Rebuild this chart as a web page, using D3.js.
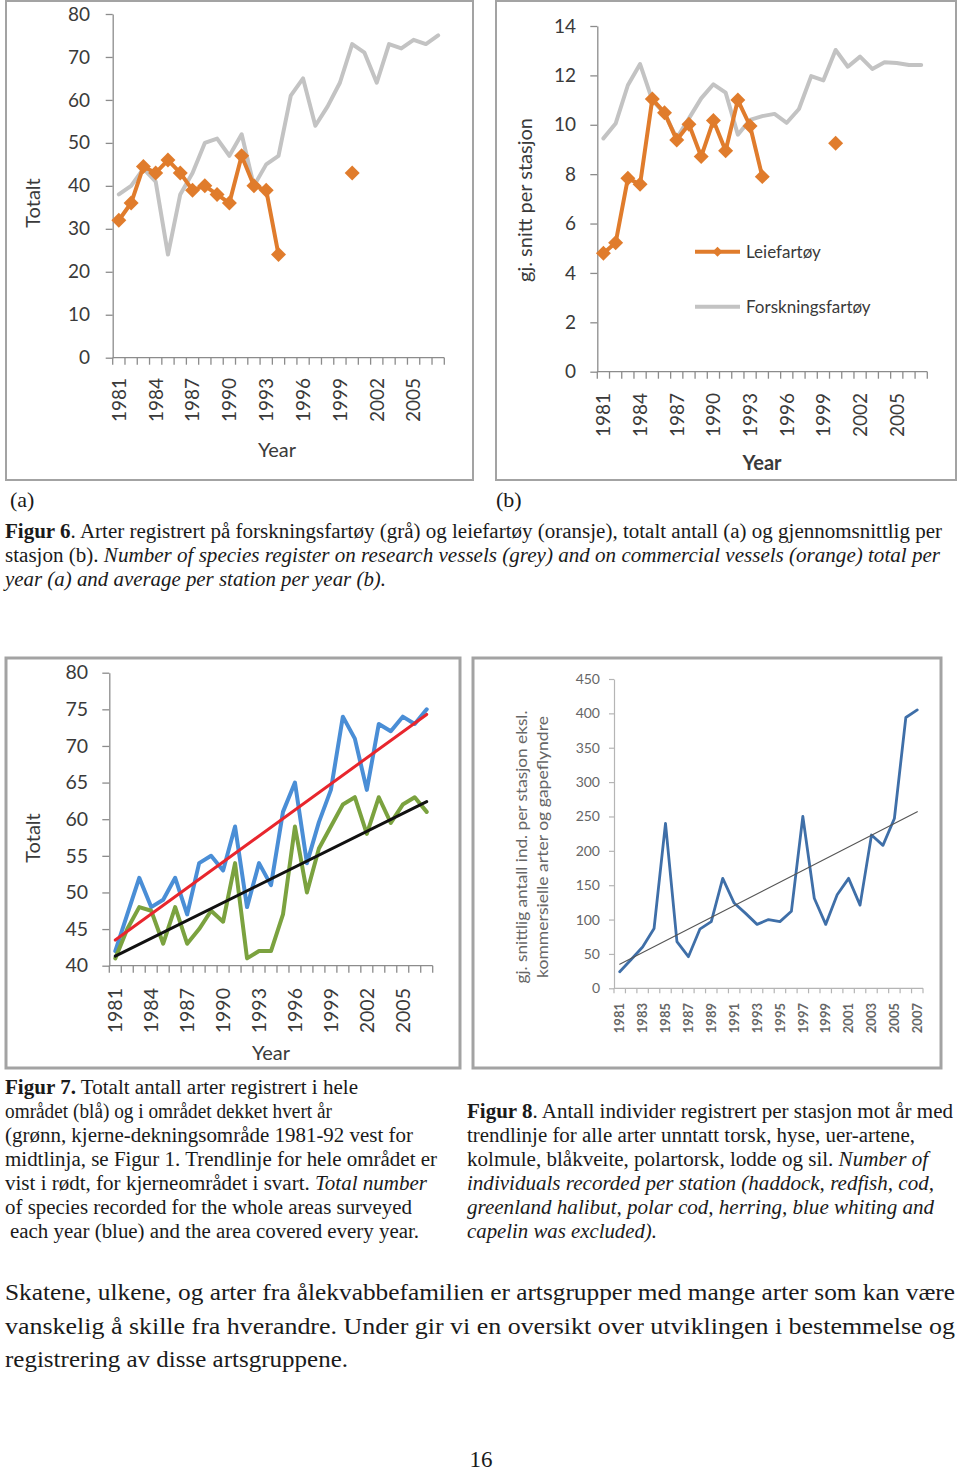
<!DOCTYPE html>
<html><head><meta charset="utf-8">
<script src="https://cdn.jsdelivr.net/npm/d3@7"></script>
<style>body{margin:0;background:#fff} svg{display:block}</style>
</head><body><svg id="page" width="960" height="1471"></svg>
<script>
// ---------- DATA ----------
const years = [1981,1982,1983,1984,1985,1986,1987,1988,1989,1990,1991,1992,1993,1994,1995,1996,1997,1998,1999,2000,2001,2002,2003,2004,2005,2006,2007];
const labelYears3 = [1981,1984,1987,1990,1993,1996,1999,2002,2005];
const labelYears2 = [1981,1983,1985,1987,1989,1991,1993,1995,1997,1999,2001,2003,2005,2007];

// Figur 6 (a): total number of species
const totalResearch = [38,40,44,41,24,38,43,50,51,47,52,40,45,47,61,65,54,58.5,64,73,71,64,73,72,74,73,75];
const totalCommercial = [32,36,44.5,43,46,43,39,40,38,36,47,40,39,24,null,null,null,null,null,43,null,null,null,null,null,null,null];
const ticksA = [0,10,20,30,40,50,60,70,80];

// Figur 6 (b): average per station
const avgResearch = [9.45,10.05,11.6,12.46,11.0,10.46,9.45,10.26,11.07,11.64,11.3,9.6,10.2,10.35,10.44,10.08,10.64,11.97,11.8,13.03,12.35,12.76,12.26,12.53,12.5,12.42,12.42];
const avgCommercial = [4.8,5.22,7.83,7.59,11.04,10.49,9.38,10.02,8.71,10.17,8.95,11.0,9.95,7.9,null,null,null,null,null,9.25,null,null,null,null,null,null,null];
const ticksB = [0,2,4,6,8,10,12,14];
const legendB = ["Leiefartøy","Forskningsfartøy"];

// Figur 7: whole area (blue) and core area (green) with trend lines
const wholeArea = [42,47,52,48,49,52,47,54,55,53,59,48,54,51,61,65,54,59.6,64,74,71,64,73,72,74,73,75];
const coreArea = [41,45,48,47.5,43,48,43,45,47.5,46,54,41,42,42,47,59,50,56,59,62,63,58,63,59.5,62,63,61];
const trendWhole = [43.5,74.3];   // 1981, 2007
const trendCore = [41.3,62.4];    // 1981, 2007
const ticks7 = [40,45,50,55,60,65,70,75,80];

// Figur 8: individuals per station
const individuals = [24,42,60,87,240,68,46,86,97,160,124,109,93,100,97,112,250,131,93,136,160,121,223,208,247,394,405];
const trend8 = [35,257];          // 1981, 2007
const ticks8 = [0,50,100,150,200,250,300,350,400,450];

// ---------- DRAW ----------
const svg = d3.select('#page');
svg.append('rect').attr('width',960).attr('height',1471).attr('fill','#fff');
const CHART_FONT = "Lato, 'Open Sans', sans-serif";
const SERIF = "'Liberation Serif', 'Times New Roman', serif";

function frame(x0,y0,x1,y1,w){
  svg.append('rect').attr('x',x0).attr('y',y0).attr('width',x1-x0).attr('height',y1-y0)
    .attr('fill','none').attr('stroke','#a3a3a3').attr('stroke-width',w||2);
}

function chart(c){
  const g = svg.append('g');
  const x = d3.scaleBand().domain(years).range([c.x0,c.x1]);
  const y = d3.scaleLinear().domain([c.yTicks[0], c.yTicks[c.yTicks.length-1]]).range([c.yBot,c.yTop]);
  const cx = yr => x(yr) + x.bandwidth()/2;
  // y axis
  const ya = d3.axisLeft(y).tickValues(c.yTicks).tickSize(c.tick).tickSizeOuter(0)
    .tickPadding(c.x0 - c.tick - c.yLabelRight);
  const yg = g.append('g').attr('transform',`translate(${c.x0},0)`).call(ya);
  yg.select('.domain').attr('stroke',c.axisColor).attr('stroke-width',c.axisW);
  yg.selectAll('.tick line').attr('stroke',c.axisColor).attr('stroke-width',c.axisW);
  yg.selectAll('.tick text').attr('font-family',CHART_FONT).attr('font-size',c.fs).attr('fill',c.textColor);
  // x axis
  g.append('line').attr('x1',c.x0).attr('x2',c.x1).attr('y1',c.yBot).attr('y2',c.yBot)
    .attr('stroke',c.axisColor).attr('stroke-width',c.axisW);
  const bounds = years.map(yr => x(yr)).concat([c.x1]);
  g.selectAll(null).data(bounds).enter().append('line')
    .attr('x1',d=>d).attr('x2',d=>d).attr('y1',c.yBot).attr('y2',c.yBot+c.tick)
    .attr('stroke',c.axisColor).attr('stroke-width',c.axisW);
  g.selectAll(null).data(c.xLabels).enter().append('text')
    .attr('transform',d=>`translate(${cx(d)},${c.xLabelTop}) rotate(-90)`)
    .attr('text-anchor','end').attr('dy','0.36em')
    .attr('font-family',CHART_FONT).attr('font-size',c.xfs||c.fs).attr('font-weight',c.xfw||'normal')
    .attr('fill',c.textColor).text(d=>d);
  // titles
  c.yTitle.forEach(t=>{
    g.append('text').attr('transform',`translate(${t.x},${c.yTitleY}) rotate(-90)`)
      .attr('text-anchor','middle').attr('dy','0.35em')
      .attr('font-family',CHART_FONT).attr('font-size',c.tfs).attr('fill',c.textColor)
      .attr('textLength',t.len||null).attr('lengthAdjust','spacingAndGlyphs')
      .text(t.text);
  });
  if(c.xTitle){
    g.append('text').attr('x',c.xTitle[0]).attr('y',c.xTitle[1]).attr('text-anchor','middle').attr('dy','0.35em')
      .attr('font-family',CHART_FONT).attr('font-size',c.tfs).attr('font-weight',c.xTitleWeight||'normal')
      .attr('fill',c.textColor).text('Year');
  }
  // series
  c.series.forEach(s=>{
    const line = d3.line().defined(v=>v!=null).x((v,i)=>cx(years[i])).y(v=>y(v));
    g.append('path').attr('d',line(s.values)).attr('fill','none').attr('stroke',s.color)
      .attr('stroke-width',s.width).attr('stroke-linejoin','round').attr('stroke-linecap','round');
    if(s.marker){
      const sym = d3.symbol(d3.symbolSquare, s.marker);
      g.selectAll(null).data(s.values.map((v,i)=>({v,yr:years[i]})).filter(d=>d.v!=null)).enter()
        .append('path').attr('d',sym)
        .attr('transform',d=>`translate(${cx(d.yr)},${y(d.v)}) rotate(45)`)
        .attr('fill',s.color);
    }
  });
  (c.trends||[]).forEach(t=>{
    g.append('line').attr('x1',cx(years[0])).attr('y1',y(t.values[0]))
      .attr('x2',cx(years[years.length-1])).attr('y2',y(t.values[1]))
      .attr('stroke',t.color).attr('stroke-width',t.width).attr('stroke-linecap','round');
  });
  return {x,y,cx,g};
}

const ORANGE = '#e07c2c', GREY = '#c3c3c3';

// frames
frame(6,1,473,480,2);
frame(496,1,956,480,2);
frame(6,658,460,1068,3);
frame(473,658,941,1068,3);

// Figur 6 (a)
chart({x0:112.7,x1:444.3,yTop:14,yBot:357.7,yTicks:ticksA,tick:7,yLabelRight:90,
  axisColor:'#8c8c8c',axisW:1.3,fs:19,tfs:20,textColor:'#3a3a3a',
  xLabels:labelYears3,xLabelTop:378,
  yTitle:[{x:33,text:'Totalt'}],yTitleY:203,xTitle:[277,450],
  series:[{values:totalResearch,color:GREY,width:4},
          {values:totalCommercial,color:ORANGE,width:4,marker:112}]});

// Figur 6 (b)
chart({x0:597.3,x1:927.3,yTop:26,yBot:371.7,yTicks:ticksB,tick:7,yLabelRight:576,
  axisColor:'#8c8c8c',axisW:1.3,fs:19,tfs:20,textColor:'#3a3a3a',
  xLabels:labelYears3,xLabelTop:393,
  yTitle:[{x:525,text:'gj. snitt per stasjon'}],yTitleY:200,xTitle:[762,463],xTitleWeight:'bold',
  series:[{values:avgResearch,color:GREY,width:4},
          {values:avgCommercial,color:ORANGE,width:4,marker:112}]});
// legend (b)
const lg = svg.append('g');
[{c:ORANGE,y:251.7,m:true},{c:GREY,y:306.7,m:false}].forEach((L,i)=>{
  lg.append('line').attr('x1',695).attr('x2',740).attr('y1',L.y).attr('y2',L.y)
    .attr('stroke',L.c).attr('stroke-width',4);
  if(L.m) lg.append('path').attr('d',d3.symbol(d3.symbolSquare,50)).attr('transform',`translate(717.5,${L.y}) rotate(45)`).attr('fill',L.c);
  lg.append('text').attr('x',746).attr('y',L.y).attr('dy','0.35em').attr('font-family',CHART_FONT)
    .attr('font-size',17).attr('fill','#3a3a3a').text(legendB[i]);
});

// Figur 7
chart({x0:109.3,x1:432.7,yTop:672.7,yBot:965.7,yTicks:ticks7,tick:7,yLabelRight:88,
  axisColor:'#8c8c8c',axisW:1.3,fs:19.5,tfs:20,textColor:'#3a3a3a',
  xLabels:labelYears3,xLabelTop:988,
  yTitle:[{x:33,text:'Totalt'}],yTitleY:838,xTitle:[271,1053],
  series:[{values:wholeArea,color:'#4a8ed6',width:4},
          {values:coreArea,color:'#7ba23f',width:4}],
  trends:[{values:trendWhole,color:'#e8262d',width:3},{values:trendCore,color:'#111',width:3}]});

// Figur 8
chart({x0:614,x1:923,yTop:679,yBot:988.3,yTicks:ticks8,tick:5,yLabelRight:600,
  axisColor:'#b5b5b5',axisW:1.2,fs:14,xfs:13,xfw:'bold',tfs:15.5,textColor:'#666',
  xLabels:labelYears2,xLabelTop:1003,
  yTitle:[{x:522,text:'gj. snittlig antall ind. per stasjon eksl.',len:273},
          {x:543,text:'kommersielle arter og gapeflyndre',len:262}],yTitleY:847,xTitle:null,
  series:[{values:individuals,color:'#3f6fa8',width:2.8}],
  trends:[{values:trend8,color:'#555',width:1.1}]});

// ---------- TEXT ----------
function textLine(x,y,len,segs,fs){
  const t = svg.append('text').attr('x',x).attr('y',y).attr('font-family',SERIF).attr('font-size',fs||20)
    .attr('fill','#1a1a1a').attr('textLength',len).attr('lengthAdjust','spacingAndGlyphs')
    .attr('xml:space','preserve');
  segs.forEach(s=>{
    t.append('tspan').attr('font-weight',s.b?'bold':null).attr('font-style',s.i?'italic':null).text(s.t);
  });
}
svg.append('text').attr('x',10).attr('y',507).attr('font-family',SERIF).attr('font-size',22).attr('fill','#1a1a1a').text('(a)');
svg.append('text').attr('x',496).attr('y',507).attr('font-family',SERIF).attr('font-size',22).attr('fill','#1a1a1a').text('(b)');

textLine(5,538,937,[{t:'Figur 6',b:1},{t:'. Arter registrert på forskningsfartøy (grå) og leiefartøy (oransje), totalt antall (a) og gjennomsnittlig per'}]);
textLine(5,562,935,[{t:'stasjon (b). '},{t:'Number of species register on research vessels (grey) and on commercial vessels (orange) total per',i:1}]);
textLine(5,586,381,[{t:'year (a) and average per station per year (b).',i:1}]);

const f7 = [
  [{t:'Figur 7.',b:1},{t:' Totalt antall arter registrert i hele'}],
  [{t:'området (blå) og i området dekket hvert år'}],
  [{t:'(grønn, kjerne-dekningsområde 1981-92 vest for'}],
  [{t:'midtlinja, se Figur 1. Trendlinje for hele området er'}],
  [{t:'vist i rødt, for kjerneområdet i svart. '},{t:'Total number',i:1}],
  [{t:'of species recorded for the whole areas surveyed'}],
  [{t:'each year (blue) and the area covered every year.'}]];
const f7len = [353,327,408,432,422,407,409];
const f7x = [5,5,5,5,5,5,10];
f7.forEach((segs,i)=>textLine(f7x[i],1094+24*i,f7len[i],segs));

const f8 = [
  [{t:'Figur 8',b:1},{t:'. Antall individer registrert per stasjon mot år med'}],
  [{t:'trendlinje for alle arter unntatt torsk, hyse, uer-artene,'}],
  [{t:'kolmule, blåkveite, polartorsk, lodde og sil. '},{t:'Number of',i:1}],
  [{t:'individuals recorded per station (haddock, redfish, cod,',i:1}],
  [{t:'greenland halibut, polar cod, herring, blue whiting and',i:1}],
  [{t:'capelin was excluded).',i:1}]];
const f8len = [486,448,461,467,467,190];
f8.forEach((segs,i)=>textLine(467,1118+24*i,f8len[i],segs));

const body = ['Skatene, ulkene, og arter fra ålekvabbefamilien er artsgrupper med mange arter som kan være',
  'vanskelig å skille fra hverandre. Under gir vi en oversikt over utviklingen i bestemmelse og',
  'registrering av disse artsgruppene.'];
const bodyLen = [950,950,343];
body.forEach((s,i)=>textLine(5,1300+33.5*i,bodyLen[i],[{t:s}],23));
svg.append('text').attr('x',481).attr('y',1467).attr('text-anchor','middle').attr('font-family',SERIF)
  .attr('font-size',23).attr('fill','#1a1a1a').text('16');
</script></body></html>
